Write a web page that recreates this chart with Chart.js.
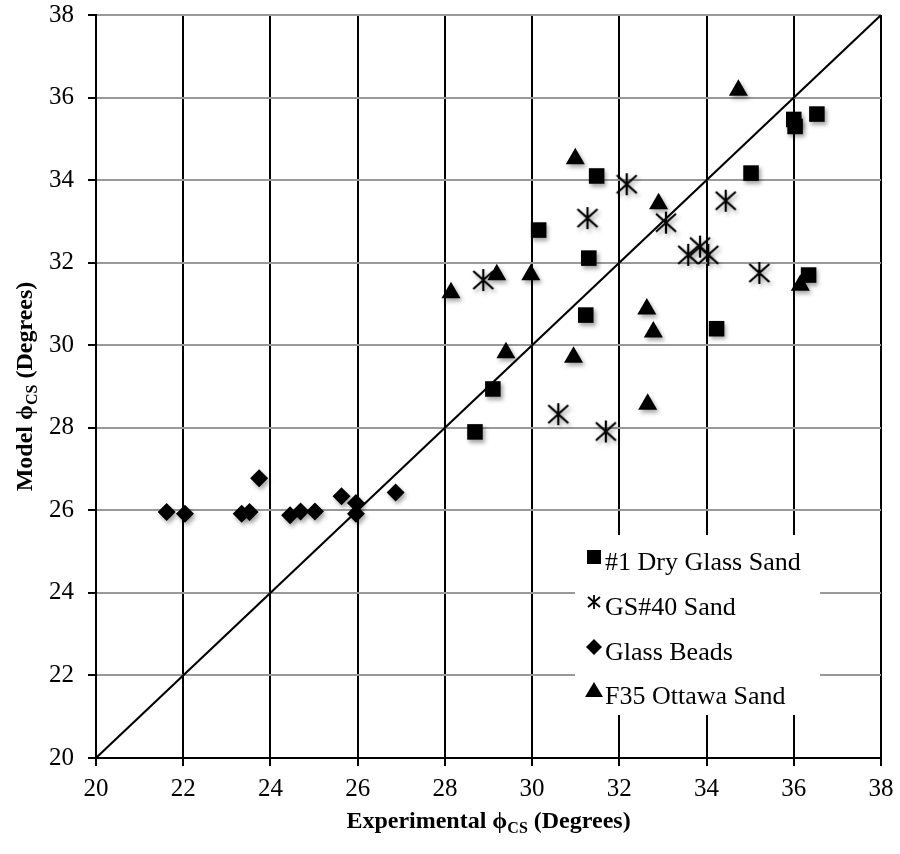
<!DOCTYPE html>
<html>
<head>
<meta charset="utf-8">
<script src="https://cdn.jsdelivr.net/npm/chart.js@4.4.0/dist/chart.umd.min.js"></script>
<style>
  html, body { margin: 0; background: #fff; }
</style>
</head>
<body>
<canvas id="chart" width="900" height="854"></canvas>
<script>
// ------------------- DATA -------------------
const xTicks = [20, 22, 24, 26, 28, 30, 32, 34, 36, 38];
const yTicks = [20, 22, 24, 26, 28, 30, 32, 34, 36, 38];

const dryGlassX = [28.69, 29.10, 30.15, 31.23, 31.30, 31.48, 34.23, 35.02, 36.00, 36.03, 36.53, 36.34];
const dryGlassY = [27.90, 28.94, 32.79, 30.73, 32.11, 34.10, 30.40, 34.17, 35.47, 35.30, 35.60, 31.70];

const gs40X = [28.88, 30.60, 31.27, 31.69, 32.17, 33.07, 33.58, 33.85, 34.04, 34.44, 35.21];
const gs40Y = [31.58, 28.33, 33.08, 27.91, 33.90, 32.97, 32.19, 32.39, 32.19, 33.50, 31.75];

const beadsX = [21.62, 22.04, 23.34, 23.52, 23.74, 24.45, 24.69, 25.02, 25.63, 25.96, 25.96, 26.87];
const beadsY = [25.96, 25.92, 25.92, 25.96, 26.78, 25.88, 25.97, 25.97, 26.34, 26.18, 25.92, 26.43];

const ottawaX = [28.14, 29.19, 29.40, 29.97, 30.95, 30.99, 32.63, 32.65, 32.78, 32.90, 34.73, 36.15];
const ottawaY = [31.27, 31.71, 29.82, 31.71, 29.71, 34.52, 30.88, 28.57, 30.32, 33.43, 36.18, 31.45];

const lineX = [20, 38];
const lineY = [20, 38];

const seriesNames = ["#1 Dry Glass Sand", "GS#40 Sand", "Glass Beads", "F35 Ottawa Sand"];

// ------------------- HELPERS -------------------
const FONT = "'Liberation Serif', 'Times New Roman', serif";
const toPoints = (xs, ys) => xs.map((x, i) => ({ x: x, y: ys[i] }));

// asterisk marker (vertical bar + X) as a small canvas
function makeAsterisk(size, lw) {
  const c = document.createElement("canvas");
  c.width = size; c.height = size;
  const g = c.getContext("2d");
  g.strokeStyle = "#000";
  g.lineWidth = lw;
  const m = size / 2, a = 1, b = size - 1;
  g.beginPath();
  g.moveTo(m, a); g.lineTo(m, b);
  g.moveTo(a + 1, a + 2); g.lineTo(b - 1, b - 2);
  g.moveTo(b - 1, a + 2); g.lineTo(a + 1, b - 2);
  g.stroke();
  return c;
}
const asterisk = makeAsterisk(24, 2.2);
const asteriskSmall = makeAsterisk(16, 1.8);

// drop shadow behind markers
const shadowPlugin = {
  id: "markerShadow",
  beforeDatasetDraw(chart, args) {
    if (chart.data.datasets[args.index].type === "line") return;
    const ctx = chart.ctx;
    ctx.save();
    ctx.shadowColor = "rgba(0,0,0,0.35)";
    ctx.shadowBlur = 4;
    ctx.shadowOffsetX = 2;
    ctx.shadowOffsetY = 3;
  },
  afterDatasetDraw(chart, args) {
    if (chart.data.datasets[args.index].type === "line") return;
    chart.ctx.restore();
  }
};

// axis titles with subscript
function drawSubTitle(ctx, parts, cx, cy) {
  let total = 0;
  parts.forEach(p => { ctx.font = p.font; p.w = ctx.measureText(p.t).width; total += p.w; });
  let x = cx - total / 2;
  parts.forEach(p => {
    ctx.font = p.font;
    ctx.fillText(p.t, x, cy + (p.dy || 0));
    x += p.w;
  });
}

const titlePlugin = {
  id: "axisTitles",
  afterDraw(chart) {
    const ctx = chart.ctx;
    const area = chart.chartArea;
    const big = "bold 24px " + FONT;
    const sub = "bold 16px " + FONT;
    ctx.save();
    ctx.fillStyle = "#000";
    ctx.textBaseline = "alphabetic";
    ctx.textAlign = "left";
    drawSubTitle(ctx, [
      { t: "Experimental \u03D5", font: big },
      { t: "CS", font: sub, dy: 5 },
      { t: " (Degrees)", font: big }
    ], (area.left + area.right) / 2, 828);

    ctx.translate(32, (area.top + area.bottom) / 2);
    ctx.rotate(-Math.PI / 2);
    drawSubTitle(ctx, [
      { t: "Model \u03D5", font: big },
      { t: "CS", font: sub, dy: 5 },
      { t: " (Degrees)", font: big }
    ], 0, 0);
    ctx.restore();
  }
};

// legend box inside the plot
const legendPlugin = {
  id: "innerLegend",
  afterDraw(chart) {
    const ctx = chart.ctx;
    ctx.save();
    ctx.fillStyle = "#fff";
    ctx.fillRect(575, 535, 245, 180);
    const rows = [562, 607, 652, 696];
    const mx = 594;
    ctx.fillStyle = "#000";
    seriesNames.forEach((name, i) => {
      const y = rows[i];
      ctx.beginPath();
      if (i === 0) {
        ctx.rect(mx - 7, y - 7 - 5, 14, 14);
        ctx.fill();
      } else if (i === 1) {
        ctx.drawImage(asteriskSmall, mx - 8, y - 8 - 5);
      } else if (i === 2) {
        ctx.moveTo(mx, y - 13); ctx.lineTo(mx + 8, y - 5);
        ctx.lineTo(mx, y + 3); ctx.lineTo(mx - 8, y - 5);
        ctx.closePath(); ctx.fill();
      } else {
        ctx.moveTo(mx, y - 14); ctx.lineTo(mx + 9, y + 1);
        ctx.lineTo(mx - 9, y + 1);
        ctx.closePath(); ctx.fill();
      }
      ctx.font = "26px " + FONT;
      ctx.textBaseline = "alphabetic";
      ctx.fillText(name, 605, y + 8);
    });
    ctx.restore();
  }
};

// ------------------- CHART -------------------
const ctx = document.getElementById("chart").getContext("2d");
new Chart(ctx, {
  type: "scatter",
  data: {
    datasets: [
      {
        type: "line",
        data: toPoints(lineX, lineY),
        borderColor: "#000",
        borderWidth: 2,
        pointRadius: 0,
        fill: false,
        order: 10
      },
      {
        label: seriesNames[0],
        data: toPoints(dryGlassX, dryGlassY),
        pointStyle: "rect",
        pointRadius: 11,
        backgroundColor: "#000",
        borderColor: "#000",
        borderWidth: 0
      },
      {
        label: seriesNames[1],
        data: toPoints(gs40X, gs40Y),
        pointStyle: asterisk,
        pointRadius: 11
      },
      {
        label: seriesNames[2],
        data: toPoints(beadsX, beadsY),
        pointStyle: "rectRot",
        pointRadius: 9,
        backgroundColor: "#000",
        borderColor: "#000",
        borderWidth: 0
      },
      {
        label: seriesNames[3],
        data: toPoints(ottawaX, ottawaY),
        pointStyle: "triangle",
        pointRadius: 11,
        backgroundColor: "#000",
        borderColor: "#000",
        borderWidth: 0
      }
    ]
  },
  options: {
    responsive: false,
    animation: false,
    layout: { padding: { top: 15, right: 19, left: 0, bottom: 0 } },
    plugins: {
      legend: { display: false },
      tooltip: { enabled: false }
    },
    scales: {
      x: {
        type: "linear",
        min: xTicks[0],
        max: xTicks[xTicks.length - 1],
        afterBuildTicks: s => { s.ticks = xTicks.map(v => ({ value: v })); },
        afterFit: s => { s.height = 96; s.paddingLeft = 0; s.paddingRight = 0; },
        ticks: {
          color: "#000",
          font: { family: FONT, size: 25 },
          padding: 8,
          maxRotation: 0
        },
        grid: { color: "#000", lineWidth: 2, tickLength: 8, tickColor: "#000" },
        border: { color: "#000", width: 2 }
      },
      y: {
        type: "linear",
        min: yTicks[0],
        max: yTicks[yTicks.length - 1],
        afterBuildTicks: s => { s.ticks = yTicks.map(v => ({ value: v })); },
        afterFit: s => { s.width = 96; s.paddingTop = 0; s.paddingBottom = 0; },
        ticks: {
          color: "#000",
          font: { family: FONT, size: 25 },
          padding: 14
        },
        grid: { color: "#999", lineWidth: 2, tickLength: 8, tickColor: "#000" },
        border: { color: "#000", width: 2 }
      }
    }
  },
  plugins: [shadowPlugin, legendPlugin, titlePlugin]
});
</script>
</body>
</html>
